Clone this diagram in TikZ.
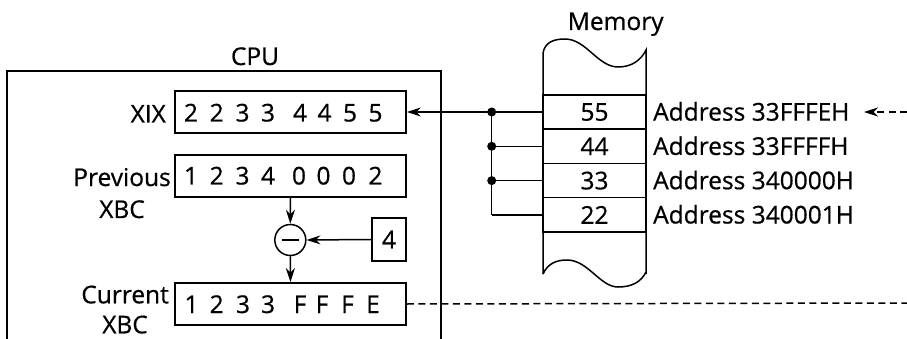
\documentclass[tikz,border=0pt]{standalone}
\usepackage{fontspec}
\setmainfont{Open Sans}[FakeBold=0.6]
\usetikzlibrary{arrows.meta}
\tikzset{
  txt/.style={font=\fontsize{24.5}{28}\selectfont, inner sep=0pt},
  reg/.style={draw, line width=1.8pt, minimum width=231pt, minimum height=42pt, inner sep=0pt},
  cell/.style={draw, line width=1.5pt, minimum width=103pt, minimum height=34.3pt, inner sep=0pt, font=\fontsize{24.5}{28}\selectfont},
  arr/.style={line width=1.5pt, -{Stealth[length=14pt,width=9pt,inset=4.5pt]}},
  bus/.style={line width=1.5pt},
  dsh/.style={line width=1.5pt, dash pattern=on 7pt off 4.5pt},
  dot/.style={circle, fill, inner sep=0pt, minimum size=9pt}
}
\begin{document}
\begin{tikzpicture}[x=1pt,y=-1pt]
\useasboundingbox (0,0) rectangle (907,339);
% CPU frame
\draw[line width=1.8pt] (7,339) -- (7,70.7) -- (441,70.7) -- (441,339);
\node[txt, anchor=base] (cpulbl) at (255,65) {CPU};
% registers
\node[reg] (xix) at (290.5,112) {};
\node[reg] (prev) at (290.5,176) {};
\node[reg] (cur) at (290.5,304) {};
\foreach \d [count=\i] / \x in {2/191,2/216.7,3/242.5,3/268,4/300,4/324.5,5/350,5/375.5}
  \node[txt, anchor=base] (xixd\i) at (\x,121.5) {\d};
\foreach \d [count=\i] / \x in {1/191,2/216.7,3/242.5,4/268,0/299,0/323.5,0/349,2/375.5}
  \node[txt, anchor=base] (prevd\i) at (\x,184.5) {\d};
\foreach \d [count=\i] / \x in {1/191.5,2/216.7,3/243,3/268,F/300,F/322,F/347.5,E/373}
  \node[txt, anchor=base] (curd\i) at (\x,313) {\d};
\node[txt, anchor=base east] (xixlbl) at (166,122.5) {XIX};
\node[txt, anchor=base east] (prevlbl) at (171,186) {Previous};
\node[txt, anchor=base] (prevxbc) at ([yshift=-32pt]prevlbl.base) {XBC};
\node[txt, anchor=base east] (curlbl) at (169,303.3) {Current};
\node[txt, anchor=base] (curxbc) at ([yshift=-30pt]curlbl.base) {XBC};
% subtractor
\node[circle, draw, line width=1.5pt, minimum size=31pt, inner sep=0pt] (sub) at (290.3,240) {};
\draw[line width=1.8pt] ([xshift=-8.5pt]sub.center) -- ([xshift=8.5pt]sub.center);
\node[draw, line width=1.8pt, minimum width=34.5pt, minimum height=42.5pt, inner sep=0pt, font=\fontsize{24.5}{28}\selectfont] (four) at (389,239.5) {4};
\draw[arr] (prev.south) -- (sub.north);
\draw[arr] (sub.south) -- (cur.north);
\draw[arr] (four.west) -- (sub.east);
% memory
\draw[line width=1.5pt] (543,274) -- (543,53)
  .. controls (545,42) and (554,39) .. (565,39)
  .. controls (586,39) and (598,67) .. (618,67)
  .. controls (632,67) and (641,60) .. (646,50) -- (646,274);
\draw[line width=1.5pt] (543,274)
  .. controls (548,263) and (557,260) .. (567,260)
  .. controls (588,260) and (600,287) .. (618,287)
  .. controls (632,287) and (641,282) .. (646,272);
\node[txt, anchor=base] (memlbl) at (615.7,30) {Memory};
\node[cell] (m55) at (594.5,112) {55};
\node[cell] (m44) at (594.5,146.3) {44};
\node[cell] (m33) at (594.5,180.6) {33};
\node[cell] (m22) at (594.5,214.9) {22};
\node[txt, anchor=base west] (a1) at (653,120.6) {Address 33FFFEH};
\node[txt, anchor=base west] (a2) at (653,154.9) {Address 33FFFFH};
\node[txt, anchor=base west] (a3) at (653,189.2) {Address 340000H};
\node[txt, anchor=base west] (a4) at (653,223.5) {Address 340001H};
% bus
\coordinate (j1) at (491.7,112);
\coordinate (j2) at (491.7,146.3);
\coordinate (j3) at (491.7,180.6);
\coordinate (j4) at (491.7,214.9);
\draw[bus] (j1) -- (m55.west);
\draw[bus] (j2) -- (m44.west);
\draw[bus] (j3) -- (m33.west);
\draw[bus] (j4) -- (m22.west);
\draw[bus] (j1) -- (j4);
\node[dot] (d1) at (j1) {};
\node[dot] (d2) at (j2) {};
\node[dot] (d3) at (j3) {};
\draw[arr] (j1) -- (xix.east);
% dashed
\coordinate (dend) at (907,303);
\draw[dsh] (cur.east) -- (dend);
\coordinate (asrc) at (907,112);
\coordinate (atip) at (864,112);
\draw[dsh, -{Stealth[length=14pt,width=9pt,inset=4.5pt]}] (asrc) -- (atip);
\end{tikzpicture}
\end{document}
